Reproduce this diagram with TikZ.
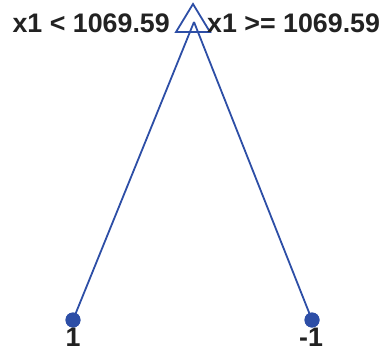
\documentclass[tikz,border=0pt]{standalone}
\usepackage{fontspec}
\setmainfont{Liberation Sans}
\begin{document}
\begin{tikzpicture}[x=1pt,y=-1pt,
  edge/.style={draw=treeblue,line width=1.8pt},
  leaf/.style={circle,fill=treeblue,inner sep=0pt,minimum size=15pt},
  lbl/.style={text=txt,font=\fontsize{26.8}{30}\selectfont\bfseries,inner sep=0pt}]
\definecolor{treeblue}{HTML}{2D4EA6}
\definecolor{txt}{HTML}{222222}
\useasboundingbox (0,0) rectangle (383,351);
\coordinate (root) at (194,22);
\coordinate (ta) at (193,4);
\coordinate (tl) at (176,32);
\coordinate (tr) at (210,32);
\node[leaf] (l1) at (73,320) {};
\node[leaf] (l2) at (312,320) {};
\draw[edge] (root) -- (l1.center);
\draw[edge] (root) -- (l2.center);
\node[leaf] at (l1) {};
\node[leaf] at (l2) {};
\draw[edge,line join=miter] (ta) -- (tl) -- (tr) -- cycle;
\node[lbl,anchor=base east] (cl) at (170,32) {x1 < 1069.59};
\node[lbl,anchor=base west] (cr) at (207,32) {x1 >= 1069.59};
\node[lbl,anchor=base] (v1) at (73,346.5) {1};
\node[lbl,anchor=base] (v2) at (311,346.5) {-1};
\end{tikzpicture}
\end{document}
